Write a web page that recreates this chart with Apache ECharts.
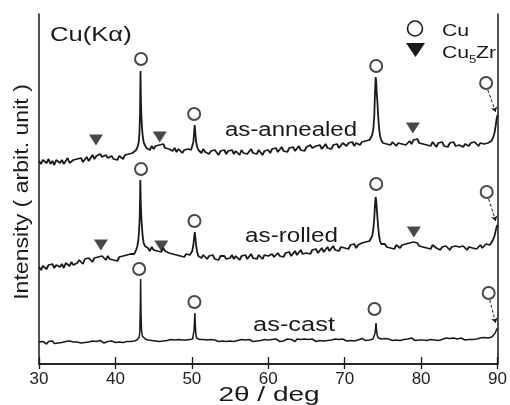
<!DOCTYPE html>
<html>
<head>
<meta charset="utf-8">
<script src="https://cdn.jsdelivr.net/npm/echarts@6/dist/echarts.min.js"></script>
<style>
  html, body { margin: 0; padding: 0; background: #fff; }
  #chart { width: 510px; height: 405px; }
</style>
</head>
<body>
<div id="chart"></div>
<script>
// XRD patterns of Cu–Zr samples, Cu Kα radiation. Intensities are in arbitrary units,
// already offset so the three patterns stack vertically.
// Each pattern = a regular 0.25° scan (null where a reflection is described in detail)
// plus finer points across each reflection.
const xTicks = [30, 40, 50, 60, 70, 80, 90];
const scanStart = 30;
const scanStep = 0.25;

const annealedScan = [
  203,200,204,202,201,205,200,203,199,204,202,201,204,200,203,206,201,199,204,202,
  205,203,206,202,204,207,203,206,209,205,208,206,210,207,205,209,206,204,208,205,
  207,204,208,206,205,209,207,210,208,211,null,null,null,null,null,null,null,217,214,218,
  215,218,216,219,217,220,216,218,215,217,213,216,212,215,213,211,214,212,215,213,
  null,null,null,null,214,211,215,212,214,210,213,211,214,212,209,213,211,214,210,213,
  211,214,210,213,212,209,214,211,213,210,212,215,211,213,210,214,212,209,213,211,
  214,211,215,213,216,212,214,217,213,215,212,216,214,217,213,215,218,214,216,213,
  217,215,219,216,214,218,216,219,215,217,220,216,218,215,219,217,220,216,218,221,
  220,218,221,219,222,218,221,223,219,222,220,223,221,224,null,null,null,null,null,null,
  221,223,220,222,219,222,220,218,221,223,220,222,219,221,223,220,224,222,225,221,
  223,220,222,219,221,218,222,220,217,221,219,222,218,220,217,221,219,222,218,220,
  219,221,217,220,222,218,221,219,222,220,218,221,223,220,222,221,null,null,null,null,
  null
];
const annealedPeaks = [
  [42.5,212],[42.7,214],[42.9,217],[43.05,222],[43.15,232],[43.22,250],[43.28,293],[43.34,262],
  [43.4,248],[43.48,236],[43.58,227],[43.72,221],[43.88,219],[44.05,216],
  [49.9,214],[50.05,216],[50.2,222],[50.3,232],[50.38,239],[50.46,231],[50.56,222],[50.7,217],[50.85,214],
  [73.3,223],[73.45,226],[73.6,229],[73.75,235],[73.87,248],[73.97,272],[74.05,287],[74.12,283],
  [74.2,270],[74.28,262],[74.38,248],[74.5,236],[74.62,228],[74.78,224],[74.95,222],
  [89,221],[89.2,223],[89.4,226],[89.6,231],[89.75,238],[89.88,245],[90,249]
];

const rolledScan = [
  97,94,98,96,95,99,97,100,96,99,98,97,100,96,101,99,98,102,99,101,
  101,104,102,100,105,103,106,104,102,106,104,107,105,108,106,104,108,105,107,104,
  106,103,107,105,108,106,109,107,110,108,null,null,null,null,null,null,null,116,113,117,
  114,116,113,115,112,116,113,115,111,113,110,112,109,111,108,110,107,110,108,109,
  null,null,null,null,108,106,109,107,105,108,106,109,105,107,104,108,106,108,105,107,
  106,109,105,108,106,104,108,106,109,105,107,110,106,108,105,109,107,105,109,107,
  108,106,110,107,109,111,108,110,107,111,109,112,108,110,113,109,111,114,110,112,
  111,113,110,114,112,115,111,113,116,112,114,117,113,115,118,114,116,113,117,115,
  116,118,115,119,117,120,116,119,118,121,119,122,120,123,null,null,null,null,null,null,
  118,120,117,119,116,118,115,119,117,116,119,117,120,118,121,119,122,120,121,118,
  120,117,119,116,118,115,119,117,116,118,114,117,115,118,116,114,117,115,118,116,
  117,115,118,116,114,117,119,116,118,115,117,119,116,118,120,119,null,null,null,null,
  null
];
const rolledPeaks = [
  [42.45,110],[42.65,113],[42.85,117],[43.0,124],[43.1,134],[43.18,147],[43.26,184],[43.32,160],
  [43.38,148],[43.46,138],[43.56,128],[43.7,121],[43.85,118],[44.05,116],
  [49.9,110],[50.05,113],[50.2,119],[50.3,127],[50.38,132],[50.46,127],[50.56,118],[50.7,112],[50.85,108],
  [73.3,121],[73.45,124],[73.6,128],[73.75,135],[73.87,146],[73.97,160],[74.05,167],[74.12,164],
  [74.2,155],[74.28,147],[74.38,137],[74.5,128],[74.62,123],[74.78,120],[74.95,119],
  [89,119],[89.2,121],[89.4,124],[89.6,128],[89.75,133],[89.88,137],[90,139]
];

const castScan = [
  22,20.5,22.5,21,20,22.5,21.5,23,20.5,22,21,23,21.5,20.5,22.5,21,23,21.5,22,20.5,
  22,23.5,21,22.5,21.5,23,22,20.5,23,21.5,22.5,21,23.5,22,21,23,22.5,21,23,22,
  21.5,23,22,23.5,21.5,23,22.5,24,22.5,24,23,null,null,null,null,null,null,24,25.5,23.5,
  25,23,24.5,22.5,24,23,25,23.5,22.5,24.5,23,24,22.5,24.5,23,24,22.5,24,23.5,24.5,
  24,null,null,null,24.5,23,24.5,22.5,24,23,24.5,22.5,24,23.5,22.5,24.5,23,24,22.5,24.5,
  23,24.5,22.5,24,23.5,22.5,24.5,23,24,22.5,24.5,23.5,22.5,24,23,25,23.5,22.5,24.5,23.5,
  24,22.5,24.5,23,25,23.5,22.5,24.5,23,24,25,23,24.5,23.5,22.5,25,23.5,24.5,23,25,
  23.5,24.5,23,25,24,22.5,24.5,23.5,25,23,24.5,23.5,25,24,23,25,23.5,24.5,23,25,
  24,23,25,23.5,24.5,23,25,24,23.5,25.5,24,23.5,25,24,25.5,null,null,null,null,25,
  24,25.5,23.5,25,24.5,23.5,25.5,24,25,23.5,25.5,24.5,23.5,25,24,26,24.5,23.5,25.5,24,
  25,24,25.5,23.5,25,24.5,26,24,25,23.5,25.5,24.5,24,26,24.5,25.5,24,26,24.5,25,
  24.5,26,25,24,26,24.5,25.5,24.5,26,25,24,26,25,26.5,25,26,null,null,null,null,
  null
];
const castPeaks = [
  [42.8,24],[43.0,25],[43.12,27],[43.2,33],[43.26,60],[43.3,85],[43.35,50],[43.42,33],[43.52,28],[43.7,26],[43.9,25],
  [50.1,25],[50.22,27],[50.3,34],[50.36,45],[50.4,51],[50.45,40],[50.52,30],[50.62,26],[50.8,25],
  [73.7,25],[73.85,26.5],[73.98,31],[74.05,37],[74.1,41],[74.16,35],[74.24,29],[74.35,26.5],[74.5,25.5],
  [89,26],[89.25,27],[89.5,28.5],[89.7,31],[89.85,34],[90,36]
];

// Phase markers: Cu reflections (open circles) and Cu5Zr reflections (filled triangles)
const cuMarks = [
  [43.35,305],[50.3,250],[74.12,298],[88.5,281],
  [43.35,195],[50.34,143],[74.12,180],[88.58,172],
  [43.1,95],[50.34,62],[73.9,55],[88.84,71]
];
const cu5zrMarks = [
  [37.45,224],[45.8,227],[78.92,236],
  [38.1,119],[46.0,118],[79.05,132]
];
// Dashed pointers from the Cu markers to the (311) reflection at the range edge
const pointers = [
  [[88.72,274],[89.76,252]],
  [[88.84,165],[89.76,143]],
  [[88.98,64],[89.76,41]]
];

// merge the regular scan with the detailed reflection points, sorted by angle
function pattern(scan, peaks) {
  const pts = [];
  scan.forEach((v, i) => { if (v !== null) pts.push([scanStart + i * scanStep, v]); });
  return pts.concat(peaks).sort((a, b) => a[0] - b[0]);
}

const FONT = '"Liberation Sans", Arial, sans-serif';
const INK = '#1a1a1a';

const chart = echarts.init(document.getElementById('chart'), null, { renderer: 'canvas' });

function label(text, x, y, size, sx, align, extra) {
  return Object.assign({
    type: 'text', x: x, y: y, scaleX: sx, z: 100,
    style: {
      text: text, fontSize: size, fontFamily: FONT, fill: INK,
      align: align, textAlign: align, verticalAlign: 'middle', textVerticalAlign: 'middle'
    }
  }, extra || {});
}

chart.setOption({
  animation: false,
  backgroundColor: '#fff',
  grid: { left: 39, right: 5, top: 14, bottom: 41, containLabel: false },
  xAxis: [
    {
      type: 'value', min: xTicks[0], max: xTicks[xTicks.length - 1], interval: 10, position: 'bottom',
      axisLine: { show: true, lineStyle: { color: INK, width: 1.5 } },
      axisTick: { show: true, inside: true, length: 7, lineStyle: { color: INK, width: 1.3 } },
      axisLabel: { show: true, margin: 7, color: '#222', fontSize: 17,
        alignMinLabel: 'center', alignMaxLabel: 'center',
        fontFamily: '"Liberation Sans Narrow", "Liberation Sans", Arial, sans-serif' },
      splitLine: { show: false }
    },
    {
      type: 'value', min: xTicks[0], max: xTicks[xTicks.length - 1], interval: 10, position: 'top',
      axisLine: { show: true, lineStyle: { color: INK, width: 1.5 } },
      axisTick: { show: true, inside: true, length: 5, lineStyle: { color: INK, width: 1.3 } },
      axisLabel: { show: false },
      splitLine: { show: false }
    }
  ],
  yAxis: [
    {
      type: 'value', min: 0, max: 350, position: 'left',
      axisLine: { show: true, lineStyle: { color: INK, width: 1.5 } },
      axisTick: { show: false }, axisLabel: { show: false }, splitLine: { show: false }
    },
    {
      type: 'value', min: 0, max: 350, position: 'right',
      axisLine: { show: true, lineStyle: { color: INK, width: 1.5 } },
      axisTick: { show: false }, axisLabel: { show: false }, splitLine: { show: false }
    }
  ],
  series: [
    { name: 'as-annealed', type: 'line', data: pattern(annealedScan, annealedPeaks), showSymbol: false,
      lineStyle: { color: INK, width: 1.8 } },
    { name: 'as-rolled', type: 'line', data: pattern(rolledScan, rolledPeaks), showSymbol: false,
      lineStyle: { color: INK, width: 1.8 } },
    { name: 'as-cast', type: 'line', data: pattern(castScan, castPeaks), showSymbol: false,
      lineStyle: { color: INK, width: 1.5 } },
    { name: 'Cu', type: 'scatter', data: cuMarks, symbol: 'circle', symbolSize: 12, z: 5,
      itemStyle: { color: '#fff', borderColor: INK, borderWidth: 2 } },
    { name: 'Cu5Zr', type: 'scatter', data: cu5zrMarks, symbol: 'path://M0,0 L12,0 L6,9 Z',
      symbolSize: [14, 11], z: 5, itemStyle: { color: INK } },
    { name: 'pointers', type: 'lines', coordinateSystem: 'cartesian2d', z: 4,
      data: pointers.map(p => ({ coords: p })),
      symbol: ['none', 'arrow'], symbolSize: 5,
      lineStyle: { color: INK, width: 1, type: [3, 2], opacity: 1, curveness: 0 } }
  ],
  graphic: [
    label('as-annealed', 291, 130, 20, 1.2, 'center'),
    label('as-rolled', 291.5, 236.5, 20, 1.21, 'center'),
    label('as-cast', 294, 325, 20, 1.27, 'center'),
    label('Cu(Kα)', 50, 35, 20, 1.28, 'left'),
    label('Intensity ( arbit. unit )', 22, 192, 21, 1.1, 'center', { rotation: Math.PI / 2 }),
    label('2θ / deg', 269, 395, 20, 1.4, 'center'),
    // legend
    { type: 'circle', z: 100, shape: { cx: 415, cy: 28.5, r: 7.5 },
      style: { fill: '#fff', stroke: INK, lineWidth: 1.6 } },
    { type: 'polygon', z: 100, shape: { points: [[406, 43], [425, 43], [415.5, 57]] },
      style: { fill: INK } },
    label('Cu', 442, 31, 17, 1.25, 'left'),
    label('Cu', 442, 53, 17, 1.25, 'left'),
    label('5', 469, 60, 11, 1.2, 'left'),
    label('Zr', 476, 53, 17, 1.25, 'left')
  ]
});
</script>
</body>
</html>
